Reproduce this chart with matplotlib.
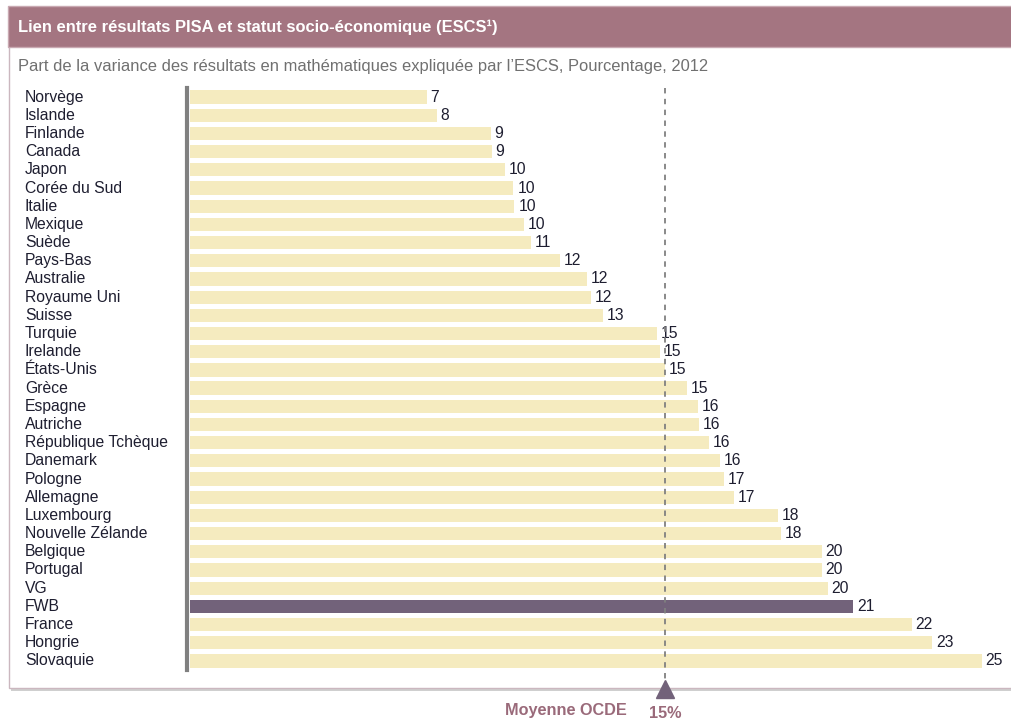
import matplotlib
matplotlib.use("Agg")
import matplotlib.pyplot as plt
from matplotlib.patches import Rectangle

pays = ["Norvège", "Islande", "Finlande", "Canada", "Japon", "Corée du Sud", "Italie",
        "Mexique", "Suède", "Pays-Bas", "Australie", "Royaume Uni", "Suisse", "Turquie",
        "Irelande", "États-Unis", "Grèce", "Espagne", "Autriche", "République Tchèque",
        "Danemark", "Pologne", "Allemagne", "Luxembourg", "Nouvelle Zélande", "Belgique",
        "Portugal", "VG", "FWB", "France", "Hongrie", "Slovaquie"]
valeurs = [7.36, 7.67, 9.35, 9.38, 9.80, 10.06, 10.09, 10.40, 10.61, 11.51, 12.34, 12.47,
           12.84, 14.52, 14.63, 14.77, 15.47, 15.79, 15.82, 16.15, 16.49, 16.61, 16.92,
           18.30, 18.37, 19.65, 19.65, 19.84, 20.63, 22.45, 23.09, 24.62]
moyenne_ocde = 14.77
surligne = "FWB"

titre = "Lien entre résultats PISA et statut socio-économique (ESCS¹)"
sous_titre = "Part de la variance des résultats en mathématiques expliquée par l’ESCS, Pourcentage, 2012"

plt.rcParams['font.family'] = ['Liberation Sans', 'DejaVu Sans']

W, H = 1011, 719
fig = plt.figure(figsize=(W / 100, H / 100), dpi=100)

# fond en coordonnées pixels
bg = fig.add_axes([0, 0, 1, 1])
bg.set_xlim(0, W)
bg.set_ylim(H, 0)
bg.axis("off")

# ombre + cadre
bg.add_patch(Rectangle((11, 49), W, 642, facecolor="#cfcfcf", edgecolor="none", zorder=0))
bg.add_patch(Rectangle((9, 46), W, 642, facecolor="white", edgecolor="#cbb7bf", lw=1, zorder=1))
# bandeau titre
bg.add_patch(Rectangle((8, 6), W, 41, facecolor="#a47581", edgecolor="#c9a9b2", lw=1, zorder=2))
bg.text(18, 27, titre, color="white", fontsize=11.9, fontweight="bold", va="center", zorder=3)
bg.text(18, 66, sous_titre, color="#707070", fontsize=11.9, va="center", zorder=3)

bg.text(627, 711, "Moyenne OCDE", color="#9a6a7a", fontsize=11.7, fontweight="bold",
        ha="right", va="center")
bg.text(665, 713, f"{moyenne_ocde:.0f}%", color="#9a6a7a", fontsize=11.7, fontweight="bold",
        ha="center", va="center")

# graphique
x0, x1 = 190, W
y0, y1 = 88, 670
echelle = 32.15  # pixels par point de %
ax = fig.add_axes([x0 / W, 1 - y1 / H, (x1 - x0) / W, (y1 - y0) / H])
ax.set_xlim(0, (x1 - x0) / echelle)
ax.set_ylim(len(pays) - 0.5, -0.5)
ax.patch.set_alpha(0)

couleurs = ["#72627a" if p == surligne else "#f5ebbf" for p in pays]
ys = list(range(len(pays)))
ax.barh(ys, valeurs, height=0.73, color=couleurs, zorder=2)

for y, v, p in zip(ys, valeurs, pays):
    ax.text(v + 0.12, y, f"{v:.0f}", va="center", ha="left", fontsize=11.3,
            color="#1e1e30", zorder=3)
    ax.text((25 - x0) / echelle, y, p, va="center", ha="left", fontsize=11.3,
            color="#1e1e30", clip_on=False)

ax.plot([moyenne_ocde, moyenne_ocde], [-0.5, 32.2], ls=(0, (3, 3)), color="#808080",
        lw=1.3, clip_on=False, zorder=3)
ax.plot([moyenne_ocde], [32.55], marker="^", markersize=13, color="#72627a",
        clip_on=False, zorder=4)

ax.set_yticks([])
ax.set_xticks([])
for s in ["top", "right", "bottom"]:
    ax.spines[s].set_visible(False)
ax.spines["left"].set_color("#808080")
ax.spines["left"].set_linewidth(3)
ax.spines["left"].set_position(("outward", 2))

fig.savefig("out.png", dpi=100)
